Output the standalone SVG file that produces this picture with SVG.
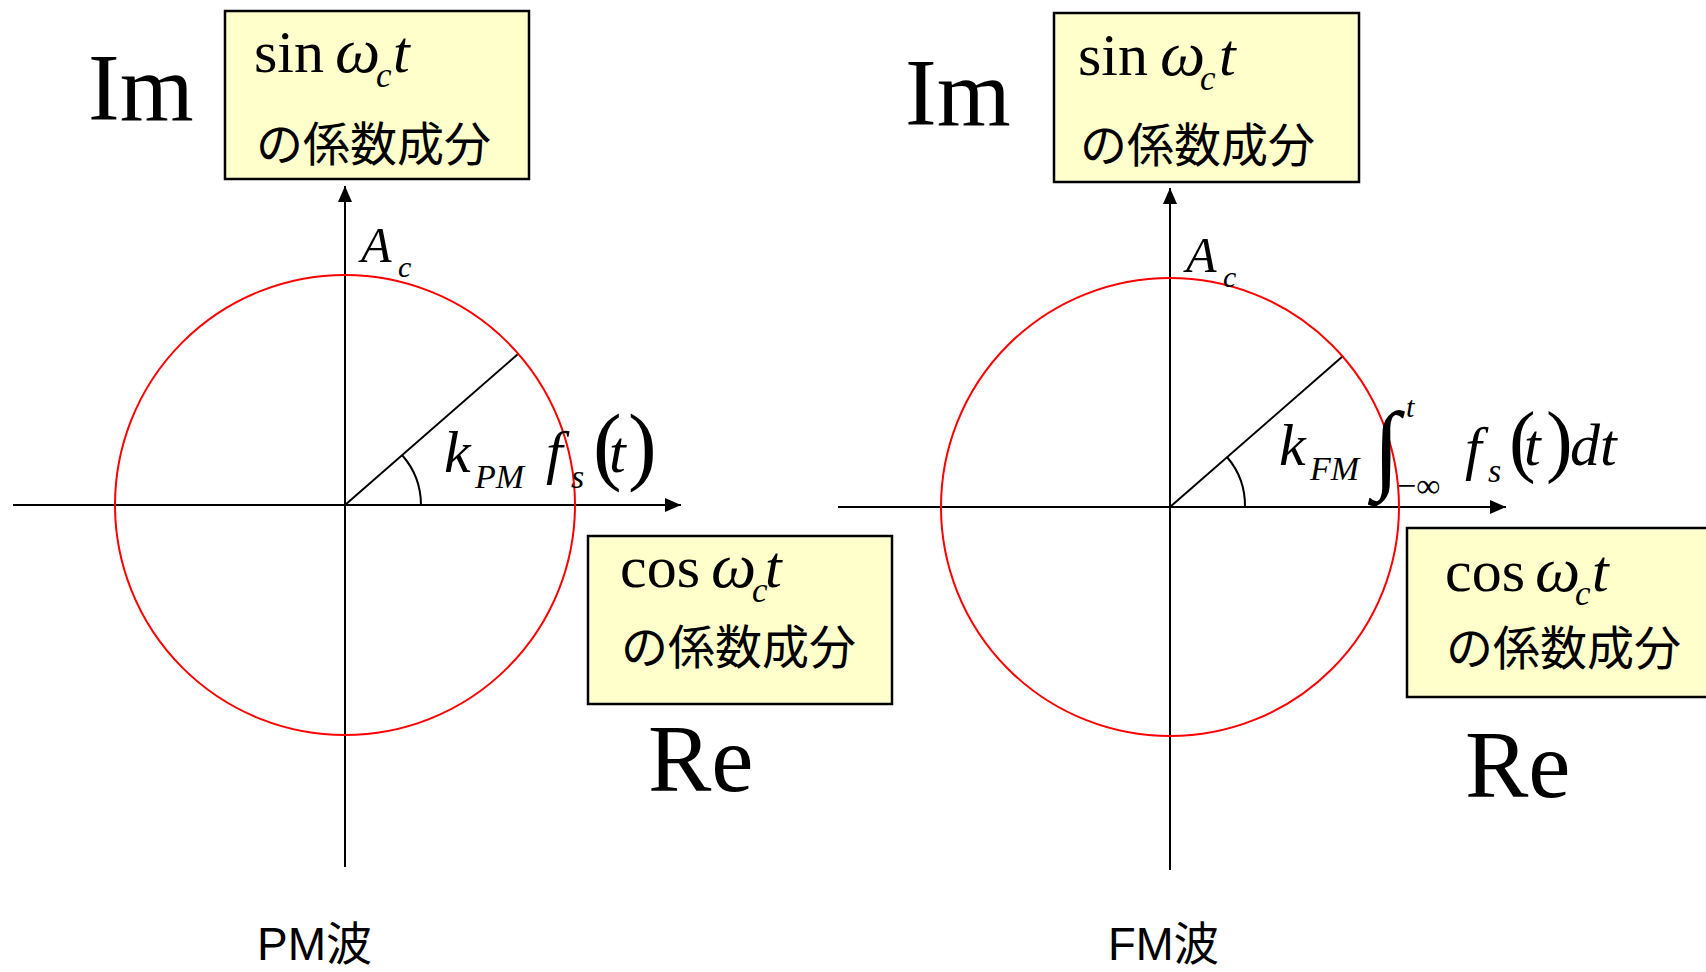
<svg xmlns="http://www.w3.org/2000/svg" width="1706" height="972" viewBox="0 0 1706 972">
<style>
.box{fill:#FFFFCC;stroke:#000;stroke-width:2.5}
.ax{stroke:#000;stroke-width:2;fill:none}
.circ{fill:none;stroke:#FF0000;stroke-width:2}
.ser{font-family:"Liberation Serif","Times New Roman",serif;fill:#000}
.it{font-family:"Liberation Serif","Times New Roman",serif;font-style:italic;fill:#000}
.jp{font-family:"Noto Sans CJK JP","Noto Sans CJK SC",sans-serif;fill:#000}
.lab{font-family:"Liberation Sans","Noto Sans CJK JP",sans-serif;fill:#000}
</style>
<defs>
<marker id="ah" viewBox="0 0 16 14" refX="16" refY="7" markerWidth="16" markerHeight="14" markerUnits="userSpaceOnUse" orient="auto">
<path d="M0,0 L16,7 L0,14 Z" fill="#000"/>
</marker>
</defs>

<g id="connectors">
<line class="ax" x1="13" y1="505" x2="681" y2="505" marker-end="url(#ah)"/>
<line class="ax" x1="345" y1="867" x2="345" y2="186" marker-end="url(#ah)"/>
<line class="ax" x1="345" y1="505" x2="518" y2="354"/>
<path class="ax" d="M402,455 A76,76 0 0 1 421,505"/>
<line class="ax" x1="838" y1="507" x2="1506" y2="507" marker-end="url(#ah)"/>
<line class="ax" x1="1170" y1="870" x2="1170" y2="188" marker-end="url(#ah)"/>
<line class="ax" x1="1170" y1="507" x2="1343" y2="356"/>
<path class="ax" d="M1227,457 A75,75 0 0 1 1245,507"/>
</g>

<g id="pm-circle"><circle class="circ" cx="345" cy="505" r="230"/></g>
<g id="fm-circle"><circle class="circ" cx="1170" cy="507" r="229"/></g>

<g id="pm-im"><text class="ser" x="88" y="120" font-size="95">Im</text></g>
<g id="pm-sin-box">
<rect class="box" x="225" y="11" width="304" height="168"/>
<text class="ser" x="254" y="72" font-size="60">sin</text>
<text class="it" x="335" y="72" font-size="64">ω</text>
<text class="it" x="376" y="87" font-size="35">c</text>
<text class="it" x="393" y="72" font-size="60">t</text>
<text class="jp" x="256" y="161" font-size="47">の係数成分</text>
</g>
<g id="pm-ac">
<text class="it" x="361" y="262" font-size="50">A</text>
<text class="it" x="398" y="277" font-size="30">c</text>
</g>
<g id="pm-angle">
<text class="it" x="444" y="472" font-size="60">k</text>
<text class="it" x="475" y="488" font-size="34">PM</text>
<text class="it" x="546" y="472" font-size="60">f</text>
<text class="it" x="571" y="488" font-size="34">s</text>
<text class="ser" x="593" y="474" font-size="86">(</text>
<text class="it" x="609" y="472" font-size="60">t</text>
<text class="ser" x="628" y="474" font-size="86">)</text>
</g>
<g id="pm-cos-box">
<rect class="box" x="588" y="536" width="304" height="168"/>
<text class="ser" x="620" y="587" font-size="60">cos</text>
<text class="it" x="711" y="587" font-size="64">ω</text>
<text class="it" x="752" y="602" font-size="35">c</text>
<text class="it" x="765" y="587" font-size="60">t</text>
<text class="jp" x="621" y="664" font-size="47">の係数成分</text>
</g>
<g id="pm-re"><text class="ser" x="648" y="791" font-size="95">Re</text></g>
<g id="pm-label"><text class="lab" x="257" y="960" font-size="46" textLength="115" lengthAdjust="spacingAndGlyphs">PM波</text></g>

<g id="fm-im"><text class="ser" x="905" y="125" font-size="95">Im</text></g>
<g id="fm-sin-box">
<rect class="box" x="1054" y="13" width="305" height="169"/>
<text class="ser" x="1078" y="75" font-size="60">sin</text>
<text class="it" x="1160" y="75" font-size="64">ω</text>
<text class="it" x="1200" y="90" font-size="35">c</text>
<text class="it" x="1219" y="75" font-size="60">t</text>
<text class="jp" x="1080" y="162" font-size="47">の係数成分</text>
</g>
<g id="fm-ac">
<text class="it" x="1186" y="272" font-size="50">A</text>
<text class="it" x="1223" y="287" font-size="30">c</text>
</g>
<g id="fm-angle">
<text class="it" x="1279" y="465" font-size="60">k</text>
<text class="it" x="1310" y="480" font-size="34">FM</text>
<text class="ser" x="1373" y="480" font-size="98">∫</text>
<text class="it" x="1406" y="417" font-size="30">t</text>
<text class="ser" x="1397" y="497" font-size="34">−∞</text>
<text class="it" x="1465" y="468" font-size="60">f</text>
<text class="it" x="1488" y="482" font-size="34">s</text>
<text class="ser" x="1509" y="467" font-size="80">(</text>
<text class="it" x="1524" y="465" font-size="60">t</text>
<text class="ser" x="1546" y="467" font-size="80">)</text>
<text class="it" x="1570" y="465" font-size="60">dt</text>
</g>
<g id="fm-cos-box">
<rect class="box" x="1407" y="528" width="310" height="169"/>
<text class="ser" x="1445" y="591" font-size="60">cos</text>
<text class="it" x="1535" y="591" font-size="64">ω</text>
<text class="it" x="1575" y="605" font-size="35">c</text>
<text class="it" x="1592" y="591" font-size="60">t</text>
<text class="jp" x="1446" y="665" font-size="47">の係数成分</text>
</g>
<g id="fm-re"><text class="ser" x="1465" y="797" font-size="95">Re</text></g>
<g id="fm-label"><text class="lab" x="1108" y="960" font-size="46" textLength="111" lengthAdjust="spacingAndGlyphs">FM波</text></g>
</svg>
